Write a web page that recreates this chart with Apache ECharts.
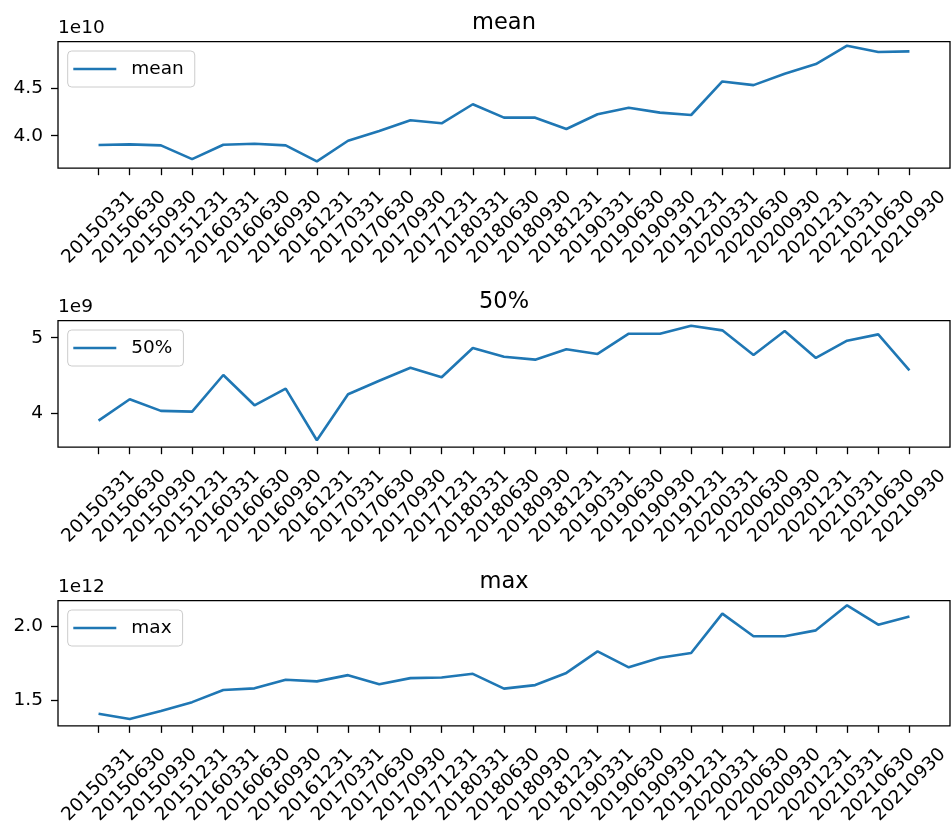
<!DOCTYPE html>
<html>
<head>
<meta charset="utf-8">
<style>
  html, body { margin: 0; padding: 0; background: #fff; }
  #chart { width: 952px; height: 827px; }
</style>
<script src="https://cdn.jsdelivr.net/npm/echarts@6/dist/echarts.min.js"></script>
</head>
<body>
<div id="chart"></div>
<script>
// Quarter-end report dates
const dates = ['20150331','20150630','20150930','20151231','20160331','20160630','20160930','20161231',
  '20170331','20170630','20170930','20171231','20180331','20180630','20180930','20181231',
  '20190331','20190630','20190930','20191231','20200331','20200630','20200930','20201231',
  '20210331','20210630','20210930'];

// Cross-sectional statistics per quarter
const meanValues = [3.902e10,3.909e10,3.899e10,3.754e10,3.905e10,3.916e10,3.899e10,3.730e10,3.947e10,
  4.050e10,4.162e10,4.131e10,4.331e10,4.190e10,4.190e10,4.071e10,4.226e10,4.295e10,4.243e10,4.218e10,
  4.570e10,4.532e10,4.651e10,4.753e10,4.946e10,4.880e10,4.886e10];
const medianValues = [3.908e9,4.189e9,4.036e9,4.026e9,4.509e9,4.110e9,4.329e9,3.650e9,4.255e9,
  4.434e9,4.605e9,4.479e9,4.864e9,4.750e9,4.711e9,4.847e9,4.786e9,5.053e9,5.053e9,5.158e9,
  5.097e9,4.772e9,5.088e9,4.733e9,4.961e9,5.044e9,4.571e9];
const maxValues = [1.407e12,1.371e12,1.425e12,1.485e12,1.567e12,1.578e12,1.636e12,1.625e12,1.667e12,
  1.605e12,1.647e12,1.651e12,1.676e12,1.576e12,1.600e12,1.682e12,1.827e12,1.720e12,1.784e12,1.816e12,
  2.082e12,1.929e12,1.929e12,1.969e12,2.138e12,2.007e12,2.062e12];

// Y tick values and axis scale (offset text) per panel
const meanTicks = [4.0e10, 4.5e10];
const medianTicks = [4e9, 5e9];
const maxTicks = [1.5e12, 2.0e12];

const panels = [
  { name: 'mean', values: meanValues, ticks: meanTicks, scale: 1e10, exp: '1e10', digits: 1,
    yMin: 3.659e10, yMax: 4.988e10, top: 41.7 },
  { name: '50%', values: medianValues, ticks: medianTicks, scale: 1e9, exp: '1e9', digits: 0,
    yMin: 3.558e9, yMax: 5.224e9, top: 320.7 },
  { name: 'max', values: maxValues, ticks: maxTicks, scale: 1e12, exp: '1e12', digits: 1,
    yMin: 1.325e12, yMax: 2.169e12, top: 600.7 }
];

const FONT = 'DejaVu Sans';
const BLUE = '#1f77b4';
const GRID_LEFT = 58, GRID_W = 892, GRID_H = 126.5;
const idx = dates.map((d, i) => i);
const spine = { color: '#000', width: 1.3 };

const option = {
  animation: false,
  backgroundColor: '#fff',
  title: [], grid: [], xAxis: [], yAxis: [], legend: [], series: []
};

panels.forEach((p, k) => {
  option.title.push({
    text: p.name,
    left: GRID_LEFT + GRID_W / 2,
    textAlign: 'center',
    top: p.top - 32,
    padding: 0,
    textStyle: { fontFamily: FONT, fontSize: 22.5, fontWeight: 'normal', color: '#000', lineHeight: 26 }
  });
  option.grid.push({
    left: GRID_LEFT, top: p.top, width: GRID_W, height: GRID_H,
    show: true, borderColor: '#000', borderWidth: 1.3, backgroundColor: '#fff'
  });
  option.xAxis.push({
    type: 'value', gridIndex: k, position: 'bottom',
    min: -1.3, max: dates.length - 1 + 1.3,
    axisLine: { show: false, onZero: false },
    splitLine: { show: false },
    axisTick: { show: true, length: 7, lineStyle: spine, customValues: idx },
    axisLabel: {
      customValues: idx,
      rotate: 45, align: 'center', verticalAlign: 'middle', margin: 59,
      fontFamily: FONT, fontSize: 18.5, color: '#000',
      formatter: v => dates[Math.round(v)]
    }
  });
  option.yAxis.push({
    type: 'value', gridIndex: k, position: 'left',
    min: p.yMin, max: p.yMax,
    name: p.exp, nameLocation: 'end', nameGap: 3,
    nameTextStyle: { fontFamily: FONT, fontSize: 18.5, color: '#000', align: 'left', verticalAlign: 'bottom', lineHeight: 22 },
    axisLine: { show: false, onZero: false },
    splitLine: { show: false },
    axisTick: { show: true, length: 7, lineStyle: spine, customValues: p.ticks },
    axisLabel: {
      customValues: p.ticks, margin: 15,
      fontFamily: FONT, fontSize: 18.5, color: '#000',
      formatter: v => (v / p.scale).toFixed(p.digits)
    }
  });
  option.legend.push({
    data: [p.name],
    left: 67.7, top: p.top + 9.3,
    orient: 'vertical',
    icon: 'rect', itemWidth: 43, itemHeight: 2.7,
    padding: [7, 11, 7, 5.6],
    backgroundColor: 'rgba(255,255,255,0.8)',
    borderColor: '#cccccc', borderWidth: 1, borderRadius: 4,
    textStyle: { fontFamily: FONT, fontSize: 18.5, color: '#000', lineHeight: 22, padding: [0, 0, 0, 10] },
    itemStyle: { color: BLUE }
  });
  option.series.push({
    name: p.name, type: 'line',
    xAxisIndex: k, yAxisIndex: k,
    data: p.values.map((v, i) => [i, v]),
    symbol: 'none', showSymbol: false,
    lineStyle: { color: BLUE, width: 2.6 },
    itemStyle: { color: BLUE }
  });
});

const chart = echarts.init(document.getElementById('chart'), null, { renderer: 'canvas' });
chart.setOption(option);
</script>
</body>
</html>
